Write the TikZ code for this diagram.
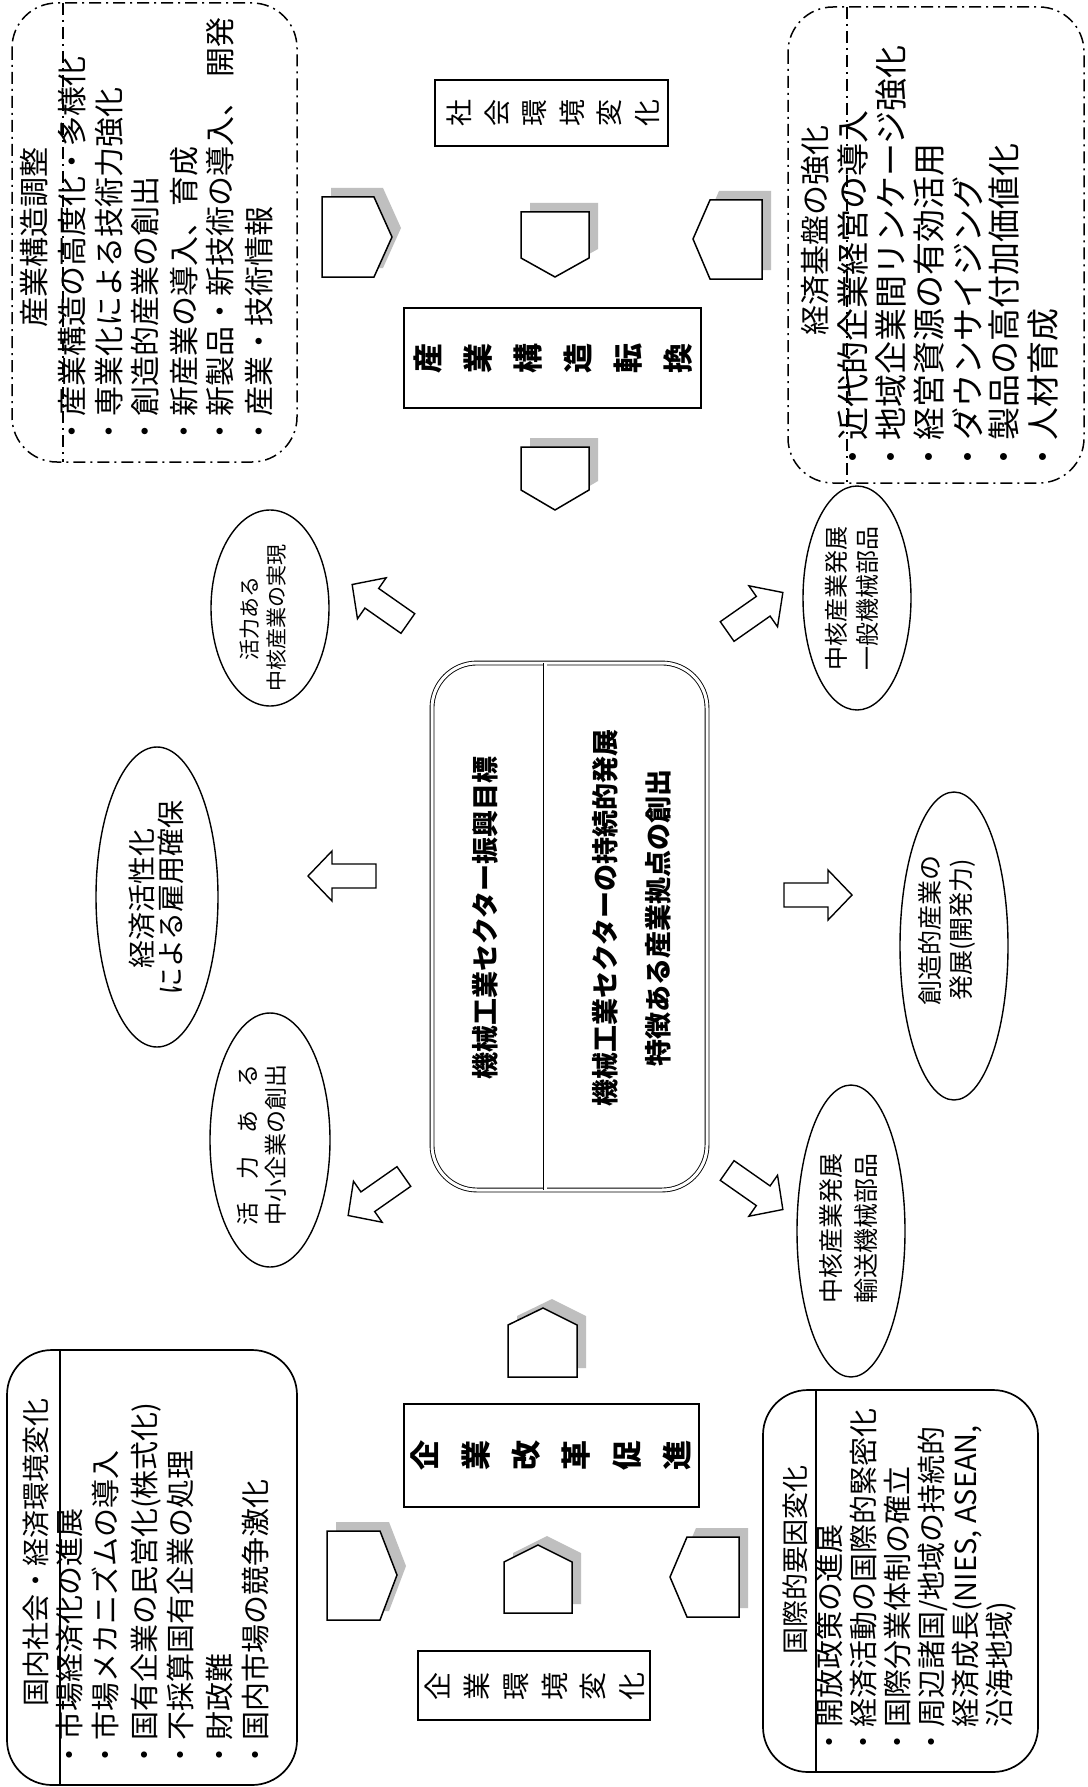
\documentclass[tikz,border=0pt]{standalone}
\usepackage{fontspec}
\setmainfont{Noto Sans CJK JP}
\usetikzlibrary{shapes.geometric,shadows}
\newcommand\fsz[2]{\fontsize{#1}{#2}\selectfont}
\begin{document}
\begin{tikzpicture}[x=1pt,y=-1pt,
  rt/.style={rotate=90, inner sep=0pt},
  ln/.style={rt, anchor=west, text height=0.88em, text depth=0.12em},
  ttl/.style={rt, anchor=center, text height=0.88em, text depth=0.12em},
  dashdot/.style={line width=1.5pt, dash pattern=on 12pt off 5pt on 2pt off 5pt},
  solidline/.style={line width=1.7pt},
  labelbox/.style={draw, line width=1.7pt},
  bubble/.style={draw, ellipse, line width=1.4pt, inner sep=0pt},
  house/.style={draw, fill=white, line width=1.5pt, line join=miter,
    drop shadow={shadow xshift=9pt, shadow yshift=9pt, fill=gray!50, opacity=1}},
  blk/.style={draw, fill=white, line width=1.4pt, line join=miter},
  pics/blockarrow/.style={code={
    \draw[blk] (-34,-12) -- (10,-12) -- (10,-25) -- (34,0) -- (10,25) -- (10,12) -- (-34,12) -- cycle;}},
]
\useasboundingbox (0,0) rectangle (1087,1787);
\fill[white] (0,0) rectangle (1087,1787);

% ---------- upper left: industrial structure adjustment ----------
\draw[dashdot, rounded corners=45pt] (12,3) rectangle (297,462);
\draw[dashdot] (63,3) -- (63,462);
\node[ttl, font=\fsz{30}{36}] (adjT) at (42,237) {産業構造調整};
\begin{scope}[every node/.style={ln, font=\fsz{30}{36}}]
\node (adj1) at (80,447)  {・産業構造の高度化・多様化};
\node (adj2) at (117,447) {・専業化による技術力強化};
\node (adj3) at (153,447) {・創造的産業の創出};
\node (adj4) at (192,447) {・新産業の導入、育成};
\node (adj5) at (228,447) {・新製品・新技術の導入、\hspace{0.3em}開発};
\node (adj6) at (267,447) {・産業・技術情報};
\end{scope}

% ---------- upper right: economic base ----------
\draw[dashdot, rounded corners=45pt] (788,7) rectangle (1084,483);
\draw[dashdot] (847,7) -- (847,483);
\node[ttl, font=\fsz{30}{36}] (ecoT) at (823,230) {経済基盤の強化};
\begin{scope}[every node/.style={ln, font=\fsz{33}{38}}]
\node (eco1) at (862,474)  {・近代的企業経営の導入};
\node (eco2) at (900,474)  {・地域企業間リンケージ強化};
\node (eco3) at (938,474)  {・経営資源の有効活用};
\node (eco4) at (977,474)  {・ダウンサイジング};
\node (eco5) at (1013,474) {・製品の高付加価値化};
\node (eco6) at (1052,474) {・人材育成};
\end{scope}

% ---------- lower left: domestic environment ----------
\draw[solidline, rounded corners=45pt] (7,1350) rectangle (297,1785);
\draw[solidline] (60,1350) -- (60,1785);
\node[ttl, font=\fsz{28}{34}] (domT) at (43,1552) {国内社会・経済環境変化};
\begin{scope}[every node/.style={ln, font=\fsz{29}{35}}]
\node (dom1) at (77,1770)  {・市場経済化の進展};
\node (dom2) at (113,1770) {・市場メカニズムの導入};
\node (dom3) at (152,1770) {・国有企業の民営化(株式化)};
\node (dom4) at (188,1770) {・不採算国有企業の処理};
\node (dom5) at (227,1770) {・財政難};
\node (dom6) at (263,1770) {・国内市場の競争激化};
\end{scope}

% ---------- lower right: international factors ----------
\draw[solidline, rounded corners=45pt] (763,1390) rectangle (1038,1772);
\draw[solidline] (816,1390) -- (816,1772);
\node[ttl, font=\fsz{27}{34}] (intT) at (802,1560) {国際的要因変化};
\begin{scope}[every node/.style={ln, font=\fsz{29}{35}}]
\node (int1) at (837,1757)  {・開放政策の進展};
\node (int2) at (871,1757)  {・経済活動の国際的緊密化};
\node (int3) at (905,1757)  {・国際分業体制の確立};
\node (int4) at (939,1757)  {・周辺諸国/地域の持続的};
\node (int5) at (973,1757)  {\phantom{・}経済成長(NIES, ASEAN,};
\node (int6) at (1007,1757) {\phantom{・}沿海地域)};
\end{scope}

% ---------- central goal box ----------
\draw[double, double distance=3pt, line width=0.9pt, rounded corners=45pt] (432,663) rectangle (707,1190);
\draw[double, double distance=3pt, line width=0.9pt] (545,663) -- (545,1190);
\begin{scope}[every node/.style={ttl, font=\bfseries\fsz{27}{34}}]
\node (goal1) at (492,918) {機械工業セクター振興目標};
\node (goal2) at (612,918) {機械工業セクターの持続的発展};
\node (goal3) at (665,918) {特徴ある産業拠点の創出};
\end{scope}

% ---------- labelled boxes of the middle column ----------
\draw[labelbox] (435,80) rectangle (668,146);
\node[rt, align=center, font=\fsz{27}{37.5}] (social) at (553,113) {社\\会\\環\\境\\変\\化};
\draw[labelbox] (404,308) rectangle (701,408);
\node[rt, align=center, font=\bfseries\fsz{30}{50}] (shift) at (553,358) {産\\業\\構\\造\\転\\換};
\draw[labelbox] (404,1404) rectangle (699,1507);
\node[rt, align=center, font=\bfseries\fsz{30}{50.4}] (reform) at (551,1455) {企\\業\\改\\革\\促\\進};
\draw[labelbox] (418,1651) rectangle (650,1720);
\node[rt, align=center, font=\fsz{28}{38.8}] (firmenv) at (535,1686) {企\\業\\環\\境\\変\\化};

% ---------- pentagon arrows with shadows ----------
\path[house] (322,197) -- (374,197) -- (392,237) -- (374,277) -- (322,277) -- cycle;
\path[house] (521,212) -- (589,212) -- (589,258) -- (555,277) -- (521,258) -- cycle;
\path[house] (693,239) -- (710,200) -- (762,200) -- (762,279) -- (710,279) -- cycle;
\path[house] (521,447) -- (589,447) -- (589,490) -- (555,510) -- (521,490) -- cycle;
\path[house] (508,1377) -- (508,1325) -- (543,1308) -- (577,1325) -- (577,1377) -- cycle;
\path[house] (327,1531) -- (380,1531) -- (397,1575) -- (380,1620) -- (327,1620) -- cycle;
\path[house] (504,1613) -- (504,1562) -- (538,1545) -- (572,1562) -- (572,1613) -- cycle;
\path[house] (670,1577) -- (687,1537) -- (739,1537) -- (739,1617) -- (687,1617) -- cycle;

% ---------- outcome ellipses ----------
\node[bubble, minimum width=118pt, minimum height=196pt] (e1) at (270,608) {};
\node[rt, align=center, font=\fsz{21}{27}] (e1t) at (263,618) {活力ある\\中核産業の実現};
\node[bubble, minimum width=122pt, minimum height=300pt] (e2) at (157,897) {};
\node[rt, align=center, font=\fsz{28}{29}] (e2t) at (156,898) {経済活性化\\による雇用確保};
\node[bubble, minimum width=120pt, minimum height=254pt] (e3) at (270,1140) {};
\node[rt, align=center, font=\fsz{23}{28}] (e3t) at (262,1145) {活\hspace{1em}力\hspace{1em}あ\hspace{1em}る\\中小企業の創出};
\node[bubble, minimum width=108pt, minimum height=224pt] (e4) at (857,598) {};
\node[rt, align=center, font=\fsz{24}{31}] (e4t) at (852,598) {中核産業発展\\一般機械部品};
\node[bubble, minimum width=108pt, minimum height=308pt] (e5) at (954,946) {};
\node[rt, align=center, font=\fsz{25}{31}] (e5t) at (947,930) {創造的産業の\\発展(開発力)};
\node[bubble, minimum width=108pt, minimum height=292pt] (e6) at (851,1231) {};
\node[rt, align=center, font=\fsz{25}{35}] (e6t) at (848,1228) {中核産業発展\\輸送機械部品};

% ---------- block arrows from the goal box ----------
\pic[rotate=145] at (380,604) {blockarrow};
\pic[rotate=180] at (342,876) {blockarrow};
\pic[rotate=215] at (376,1196) {blockarrow};
\pic[rotate=35]  at (755,612) {blockarrow};
\pic[rotate=0]   at (818,895) {blockarrow};
\pic[rotate=-35] at (755,1190) {blockarrow};
\end{tikzpicture}
\end{document}
